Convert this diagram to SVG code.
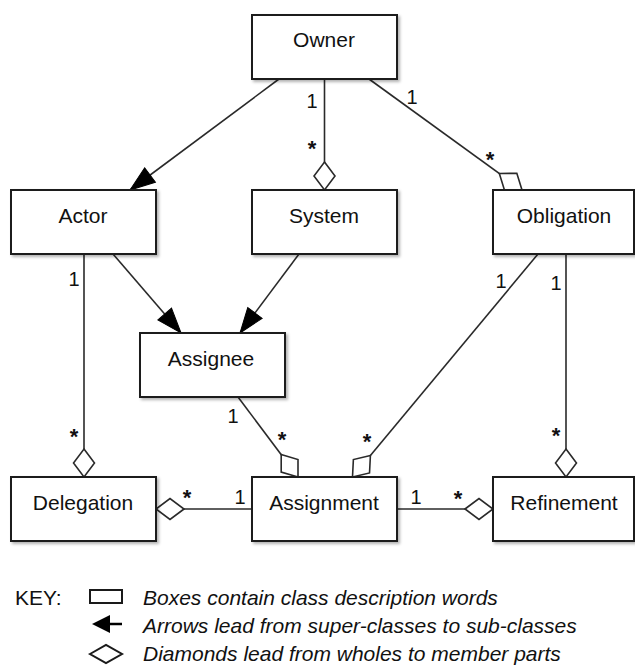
<svg xmlns="http://www.w3.org/2000/svg" width="635" height="665" viewBox="0 0 635 665">
<style>
  .box { fill: #fff; stroke: #1a1a1a; stroke-width: 2; filter: url(#sh); }
  .lbl { font-family: "Liberation Sans", Arial, sans-serif; font-size: 21px; fill: #111; text-anchor: middle; }
  .conn { stroke: #2a2a2a; stroke-width: 1.6; fill: none; }
  .gen { marker-end: url(#tri); }
  .agg { marker-end: url(#dia); }
  .m { font-family: "Liberation Sans", Arial, sans-serif; font-size: 20px; fill: #111; text-anchor: middle; }
  .star { font-weight: bold; font-size: 22px; }
  .key { font-family: "Liberation Sans", Arial, sans-serif; font-size: 21px; fill: #111; }
  .keyi { font-style: italic; }
</style>
<defs>
  <filter id="sh" x="-10%" y="-10%" width="125%" height="135%">
    <feDropShadow dx="2" dy="2" stdDeviation="1.5" flood-color="#000" flood-opacity="0.3"/>
  </filter>
  <marker id="tri" markerUnits="userSpaceOnUse" viewBox="-1 -11 27 22" markerWidth="27" markerHeight="22" refX="25" refY="0" orient="auto">
    <path d="M0,-9 L25,0 L0,9 z" fill="#000" stroke="#000" stroke-width="1"/>
  </marker>
  <marker id="dia" markerUnits="userSpaceOnUse" viewBox="-2 -12 32 24" markerWidth="32" markerHeight="24" refX="28" refY="0" orient="auto">
    <path d="M0,0 L14,-10.5 L28,0 L14,10.5 z" fill="#fff" stroke="#2a2a2a" stroke-width="1.6"/>
  </marker>
</defs>

<g id="connectors">
  <line class="conn gen" x1="279" y1="79" x2="130" y2="190"/>
  <line class="conn agg" x1="324.5" y1="79" x2="324.5" y2="190"/>
  <line class="conn agg" x1="369" y1="79" x2="522" y2="190"/>
  <line class="conn gen" x1="113" y1="254" x2="181" y2="333"/>
  <line class="conn gen" x1="299" y1="254" x2="240" y2="333"/>
  <line class="conn agg" x1="84" y1="254" x2="84" y2="477"/>
  <line class="conn agg" x1="238" y1="397" x2="298" y2="477"/>
  <line class="conn agg" x1="538" y1="254" x2="352.5" y2="477"/>
  <line class="conn agg" x1="566" y1="254" x2="566" y2="477"/>
  <line class="conn agg" x1="252" y1="509" x2="156" y2="509"/>
  <line class="conn agg" x1="397" y1="509" x2="493" y2="509"/>

  <text class="m" x="312" y="108">1</text>
  <text class="m star" x="312" y="156">*</text>
  <text class="m" x="412" y="104">1</text>
  <text class="m star" x="490" y="167">*</text>
  <text class="m" x="74" y="286">1</text>
  <text class="m star" x="74" y="444">*</text>
  <text class="m" x="233" y="423">1</text>
  <text class="m star" x="282" y="447">*</text>
  <text class="m" x="501" y="288">1</text>
  <text class="m star" x="367" y="449">*</text>
  <text class="m" x="556" y="290">1</text>
  <text class="m star" x="556" y="443">*</text>
  <text class="m" x="240" y="504">1</text>
  <text class="m star" x="187" y="505">*</text>
  <text class="m" x="416" y="504">1</text>
  <text class="m star" x="458" y="506">*</text>
</g>

<g id="owner"><rect class="box" x="252" y="15" width="145" height="64"/><text class="lbl" x="324" y="47">Owner</text></g>
<g id="actor"><rect class="box" x="11" y="190" width="145" height="64"/><text class="lbl" x="83" y="223">Actor</text></g>
<g id="system"><rect class="box" x="252" y="190" width="145" height="64"/><text class="lbl" x="324" y="223">System</text></g>
<g id="obligation"><rect class="box" x="493" y="190" width="141" height="64"/><text class="lbl" x="564" y="223">Obligation</text></g>
<g id="assignee"><rect class="box" x="140" y="333" width="145" height="64"/><text class="lbl" x="211" y="366">Assignee</text></g>
<g id="delegation"><rect class="box" x="11" y="477" width="145" height="64"/><text class="lbl" x="83" y="510">Delegation</text></g>
<g id="assignment"><rect class="box" x="252" y="477" width="145" height="64"/><text class="lbl" x="324" y="510">Assignment</text></g>
<g id="refinement"><rect class="box" x="493" y="477" width="141" height="64"/><text class="lbl" x="564" y="510">Refinement</text></g>

<g id="key">
  <text class="key" x="15" y="605">KEY:</text>
  <rect x="90" y="590" width="32" height="13" fill="#fff" stroke="#1a1a1a" stroke-width="2"/>
  <path d="M92,624 L110,615 L110,633 z" fill="#000"/>
  <line x1="108" y1="624" x2="122" y2="624" stroke="#000" stroke-width="2.5"/>
  <path d="M90,654 L106,645 L122,654 L106,663 z" fill="#fff" stroke="#1a1a1a" stroke-width="2"/>
  <text class="key keyi" x="143" y="605">Boxes contain class description words</text>
  <text class="key keyi" x="143" y="633">Arrows lead from super-classes to sub-classes</text>
  <text class="key keyi" x="143" y="661">Diamonds lead from wholes to member parts</text>
</g>
</svg>
